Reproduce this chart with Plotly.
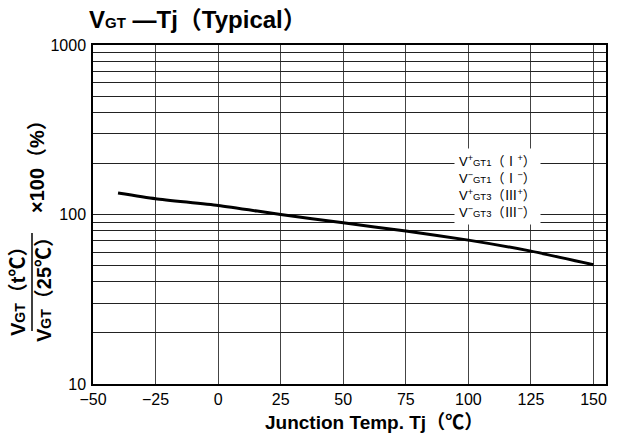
import plotly.graph_objects as go

# Data
temps = [-40, -25, 0, 25, 50, 75, 100, 125, 150]
vgt_ratio = [134, 124, 113, 100, 89.3, 79.8, 70.6, 60.8, 50.5]

x_ticks = [-50, -25, 0, 25, 50, 75, 100, 125, 150]
x_tick_labels = ["−50", "−25", "0", "25", "50", "75", "100", "125", "150"]
y_grid = [10, 20, 30, 40, 50, 60, 70, 80, 90,
          100, 200, 300, 400, 500, 600, 700, 800, 900, 1000]
y_labeled = {10: "10", 100: "100", 1000: "1000"}
y_tick_labels = [y_labeled.get(v, "") for v in y_grid]

SUB = "font-size:9.5px"
legend_lines = [
    f"V<sup>+</sup><span style=\"{SUB}\">GT1</span>（Ⅰ<sup>+</sup>）",
    f"V<sup>−</sup><span style=\"{SUB}\">GT1</span>（Ⅰ<sup>−</sup>）",
    f"V<sup>+</sup><span style=\"{SUB}\">GT3</span>（Ⅲ<sup>+</sup>）",
    f"V<sup>−</sup><span style=\"{SUB}\">GT3</span>（Ⅲ<sup>−</sup>）",
]

FONT = "Arial, 'Liberation Sans', 'Noto Sans CJK JP', sans-serif"

fig = go.Figure()
fig.add_trace(go.Scatter(
    x=temps, y=vgt_ratio, mode="lines",
    line=dict(color="black", width=3, shape="spline", smoothing=0.6),
    showlegend=False, hoverinfo="skip",
))

W, H = 622, 437
L, R, T, B = 93, 16, 45, 53
pw, ph = W - L - R, H - T - B

def px_x(px):
    return (px - L) / pw

def px_y(py):
    return (H - B - py) / ph

fig.update_layout(
    width=W, height=H,
    margin=dict(l=L, r=R, t=T, b=B),
    paper_bgcolor="white", plot_bgcolor="white",
    font=dict(family=FONT, color="black", size=16),
    title=dict(
        text="<b>V<span style=\"font-size:15px\">GT</span> —Tj（Typical）</b>",
        x=89 / W, xanchor="left",
        y=1 - 20 / H, yanchor="middle",
        font=dict(size=24, family=FONT, color="black"),
    ),
    xaxis=dict(
        range=[-50, 155], tickmode="array", tickvals=x_ticks, ticktext=x_tick_labels,
        showgrid=True, gridcolor="#444", gridwidth=1,
        showline=True, linecolor="black", linewidth=1.5, mirror=True,
        ticks="", zeroline=False, tickfont=dict(size=16),
    ),
    yaxis=dict(
        type="log", range=[1, 3], tickmode="array", tickvals=y_grid, ticktext=y_tick_labels,
        showgrid=True, gridcolor="#222", gridwidth=1,
        showline=True, linecolor="black", linewidth=1.5, mirror=True,
        ticks="", zeroline=False, tickfont=dict(size=16), ticklabelstandoff=2,
    ),
)

# X-axis title (offset to the right as in the reference)
fig.add_annotation(
    x=px_x(374), y=px_y(422), xref="paper", yref="paper",
    xanchor="center", yanchor="middle", showarrow=False,
    text="<b>Junction Temp. Tj（℃）</b>", font=dict(size=19, family=FONT),
)

# Legend-like label box
fig.add_annotation(
    x=px_x(497), y=px_y(186), xref="paper", yref="paper",
    xanchor="center", yanchor="middle", showarrow=False,
    text="<br>".join(legend_lines), align="center",
    font=dict(size=13, family=FONT), bgcolor="white", borderpad=4,
)

# Y-axis title built as a fraction
fig.add_annotation(
    x=px_x(18), y=px_y(287), xref="paper", yref="paper",
    xanchor="center", yanchor="middle", showarrow=False, textangle=-90,
    text="<b>V<span style=\"font-size:14px\">GT</span>（t℃）</b>", font=dict(size=20, family=FONT),
)
fig.add_annotation(
    x=px_x(44), y=px_y(285), xref="paper", yref="paper",
    xanchor="center", yanchor="middle", showarrow=False, textangle=-90,
    text="<b>V<span style=\"font-size:14px\">GT</span>（25℃）</b>", font=dict(size=20, family=FONT),
)
fig.add_shape(type="line", xref="paper", yref="paper",
              x0=px_x(32), x1=px_x(32), y0=px_y(233), y1=px_y(331),
              line=dict(color="black", width=1.5))
fig.add_annotation(
    x=px_x(37), y=px_y(162), xref="paper", yref="paper",
    xanchor="center", yanchor="middle", showarrow=False, textangle=-90,
    text="<b>×100（%）</b>", font=dict(size=20, family=FONT),
)

fig.write_html("out.html")
